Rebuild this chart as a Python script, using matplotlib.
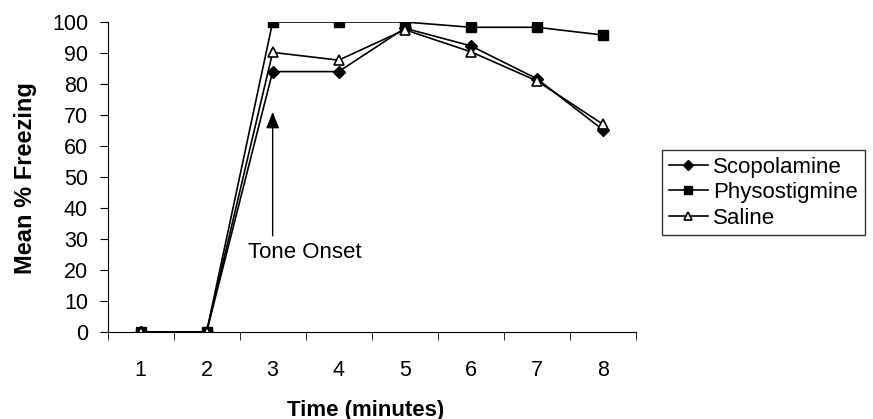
import matplotlib
matplotlib.use("Agg")
import matplotlib.pyplot as plt

minutes = [1, 2, 3, 4, 5, 6, 7, 8]
scopolamine = [0, 0, 84, 84, 98, 92.3, 81.7, 65.2]
physostigmine = [0, 0, 100, 100, 100, 98.3, 98.3, 95.8]
saline = [0, 0, 90.2, 87.7, 97.5, 90.4, 81, 67]
y_ticks = [0, 10, 20, 30, 40, 50, 60, 70, 80, 90, 100]

plt.rcParams['font.family'] = ['Liberation Sans', 'DejaVu Sans']

W, H = 873, 419
fig = plt.figure(figsize=(W / 100, H / 100), dpi=100)
ax = fig.add_axes([107.5 / W, 1 - 332 / H, (636 - 107.5) / W, (332 - 22) / H])

ax.plot(minutes, scopolamine, color='black', lw=1.2, marker='D', ms=6,
        mfc='black', mec='black', label='Scopolamine')
ax.plot(minutes, physostigmine, color='black', lw=1.2, marker='s', ms=7,
        mfc='black', mec='black', label='Physostigmine')
ax.plot(minutes, saline, color='black', lw=1.2, marker='^', ms=7.5,
        mfc='white', mec='black', mew=1.2, label='Saline')

ax.annotate('', xy=(3, 71), xytext=(3, 31),
            arrowprops=dict(arrowstyle='-|>,head_width=0.4,head_length=1.0',
                            color='black', lw=1.0, shrinkA=0, shrinkB=0))
ax.text(3.48, 25.5, 'Tone Onset', ha='center', va='center', fontsize=16)

ax.set_xlim(0.5, 8.5)
ax.set_ylim(0, 100)
ax.set_yticks(y_ticks)
ax.set_xticks(minutes)
ax.set_xticks([m + 0.5 for m in [0] + minutes], minor=True)
ax.tick_params(axis='x', which='major', length=0, labelsize=15.5, pad=20)
ax.tick_params(axis='x', which='minor', length=6, direction='out')
ax.tick_params(axis='y', length=6, direction='out', labelsize=15.5, pad=8)
ax.spines['top'].set_visible(False)
ax.spines['right'].set_visible(False)

fig.text(366 / W, 1 - 410 / H, 'Time (minutes)', ha='center', va='center',
         fontsize=16, fontweight='bold')
fig.text(26 / W, 1 - 178 / H, 'Mean % Freezing', ha='center', va='center',
         rotation=90, fontsize=17, fontweight='bold')

leg = fig.legend(loc='upper left', bbox_to_anchor=(662 / W, 1 - 150 / H),
                 frameon=True, fancybox=False, edgecolor='black', fontsize=16,
                 handlelength=1.75, handletextpad=0.25, borderpad=0.3,
                 labelspacing=0.2, borderaxespad=0, markerscale=0.85)
leg.get_frame().set_linewidth(1.0)

fig.savefig('out.png', dpi=100)
